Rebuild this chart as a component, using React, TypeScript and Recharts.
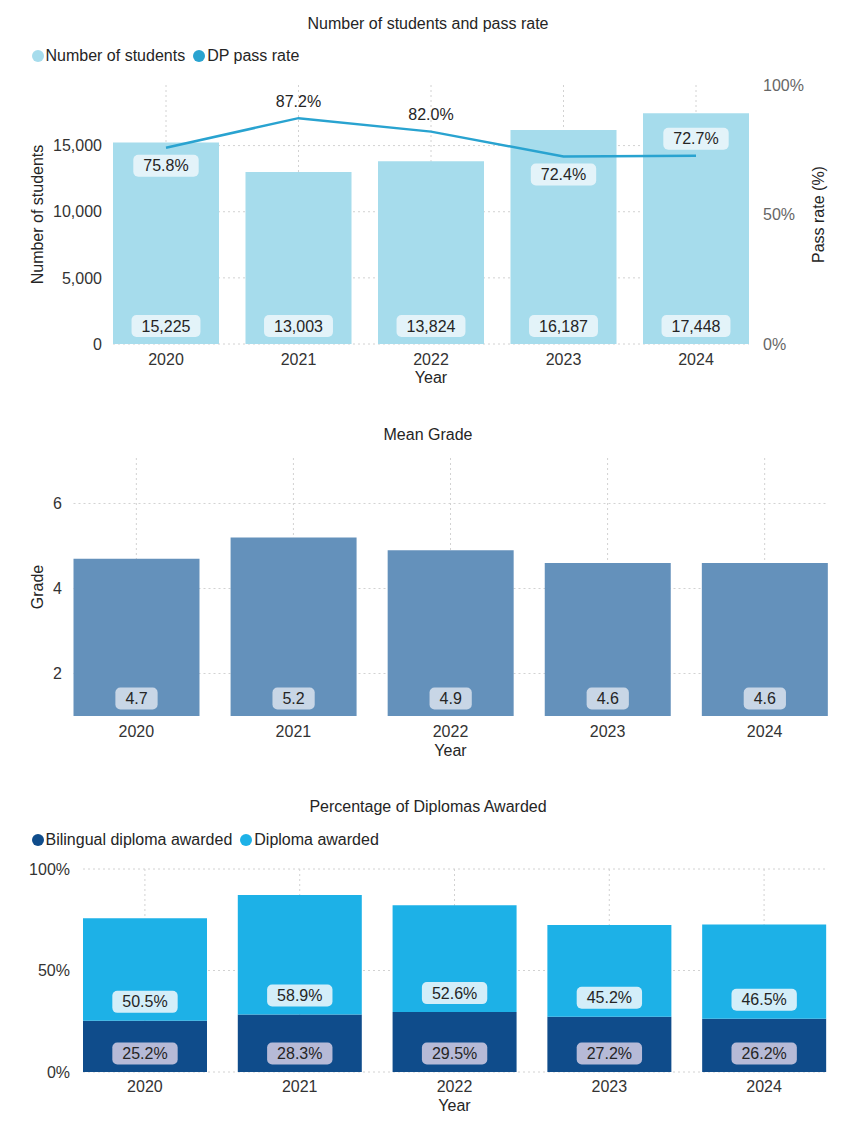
import React from 'react';
import { ComposedChart, BarChart, Bar, Line, XAxis, YAxis, CartesianGrid, LabelList } from 'recharts';

const years = ['2020', '2021', '2022', '2023', '2024'];
const studentCounts = [15225, 13003, 13824, 16187, 17448];
const dpPassRate = [75.8, 87.2, 82.0, 72.4, 72.7];
const meanGrades = [4.7, 5.2, 4.9, 4.6, 4.6];
const bilingualAwarded = [25.2, 28.3, 29.5, 27.2, 26.2];
const diplomaAwarded = [50.5, 58.9, 52.6, 45.2, 46.5];
const studentTicks = [0, 5000, 10000, 15000];
const passRateTicks = [0, 50, 100];
const gradeTicks = [2, 4, 6];
const diplomaTicks = [0, 50, 100];

const studentsData = years.map((year, i) => ({ year, students: studentCounts[i], passRate: dpPassRate[i] }));
const gradeData = years.map((year, i) => ({ year, grade: meanGrades[i] }));
const diplomaData = years.map((year, i) => ({ year, bilingual: bilingualAwarded[i], diploma: diplomaAwarded[i] }));

const FONT = '"Liberation Sans", Arial, Helvetica, sans-serif';
const FS = 16;
const W = 868;
const XH = 30;
const GAP = 0.1;
const STUDENT_MAX = 19580;
const GRADE_DOMAIN: [number, number] = [1, 7.07];

const C_STUDENTS = '#a6dcec';
const C_PASS = '#29a3d0';
const C_GRADE = '#6491bb';
const C_BILINGUAL = '#0f4c8b';
const C_DIPLOMA = '#1db1e7';
const TEXT = '#252525';
const GRID = '#d2d2d2';

type Layout = { top: number; bottom: number; left: number; right: number; h: number; yw: number; ryw: number };
const L1: Layout = { top: 85, bottom: 344, left: 113, right: 749, h: 400, yw: 60, ryw: 60 };
const L2: Layout = { top: 58, bottom: 316, left: 73.5, right: 827.5, h: 380, yw: 50, ryw: 0 };
const L3: Layout = { top: 89, bottom: 292, left: 83, right: 826, h: 343, yw: 60, ryw: 0 };

const marginOf = (l: Layout) => ({ top: l.top, bottom: l.h - l.bottom - XH, left: l.left - l.yw, right: W - l.right - l.ryw });
const edgePad = (l: Layout) => {
  const step = (l.right - l.left) / (years.length - 2 * GAP);
  const p = -step * GAP;
  return { left: p, right: p };
};

const approxWidth = (s: string) =>
  [...s].reduce((w, c) => w + (c === '%' ? 0.889 : c === '.' || c === ',' ? 0.278 : 0.556), 0) * FS;

const Tag = ({ cx, cy, text, fill }: { cx: number; cy: number; text: string; fill?: string }) => {
  const w = approxWidth(text) + 20;
  const h = 22;
  return (
    <g>
      {fill ? <rect x={cx - w / 2} y={cy - h / 2} width={w} height={h} rx={5} ry={5} fill={fill} /> : null}
      <text x={cx} y={cy} dy="0.35em" textAnchor="middle" fontFamily={FONT} fontSize={FS} fill={TEXT}>
        {text}
      </text>
    </g>
  );
};

const baseLabel = (fill: string, lift: number, fmt: (v: number) => string) => (props: any) => {
  const vb = props.viewBox || props;
  const x = Number(vb.x ?? props.x);
  const y = Number(vb.y ?? props.y);
  const w = Number(vb.width ?? props.width);
  const h = Number(vb.height ?? props.height);
  const base = Math.max(y, y + h);
  return <Tag cx={x + w / 2} cy={base - lift} text={fmt(Number(props.value))} fill={fill} />;
};

const passLabel = (props: any) => {
  const vb = props.viewBox || props;
  const x = Number(vb.x ?? props.x);
  const y = Number(vb.y ?? props.y);
  const i = typeof props.index === 'number' ? props.index : dpPassRate.indexOf(Number(props.value));
  const v = dpPassRate[i];
  const next = dpPassRate[i + 1];
  const prev = dpPassRate[i - 1];
  const below = next !== undefined ? next > v : prev !== undefined && prev > v;
  const cy = below ? y + 18 : y - 17;
  const plotH = L1.bottom - L1.top;
  const barTop = L1.bottom - (studentCounts[i] / STUDENT_MAX) * plotH;
  const inBar = cy - 11 > barTop;
  return <Tag cx={x} cy={cy} text={`${v.toFixed(1)}%`} fill={inBar ? '#e3f3f9' : undefined} />;
};

const vTitle = (text: string, x: number, color: string) => (props: any) => {
  const vb = props.viewBox || {};
  const cy = vb.y + vb.height / 2;
  return (
    <text x={x} y={cy} dy="0.35em" transform={`rotate(-90 ${x} ${cy})`} textAnchor="middle" fontFamily={FONT} fontSize={FS} fill={color}>
      {text}
    </text>
  );
};

const hTitle = (text: string, down: number) => (props: any) => {
  const vb = props.viewBox || {};
  return (
    <text x={vb.x + vb.width / 2} y={vb.y + down} dy="0.35em" textAnchor="middle" fontFamily={FONT} fontSize={FS} fill={TEXT}>
      {text}
    </text>
  );
};

const tickStyle = (fill: string) => ({ fontSize: FS, fill, fontFamily: FONT });

const Title = ({ top, text }: { top: number; text: string }) => (
  <div style={{ position: 'absolute', top, left: 0, width: 856, height: 20, lineHeight: '20px', textAlign: 'center', fontFamily: FONT, fontSize: FS, color: TEXT }}>
    {text}
  </div>
);

const LegendRow = ({ top, items }: { top: number; items: { label: string; color: string }[] }) => (
  <div style={{ position: 'absolute', top, left: 31.5, height: 20, display: 'flex', alignItems: 'center', fontFamily: FONT, fontSize: FS, color: TEXT, whiteSpace: 'nowrap' }}>
    {items.map((it, k) => (
      <span key={k} style={{ display: 'flex', alignItems: 'center', marginRight: 8, height: 20, lineHeight: '20px' }}>
        <span style={{ display: 'inline-block', width: 12, height: 12, borderRadius: 6, background: it.color, marginRight: 2 }} />
        {it.label}
      </span>
    ))}
  </div>
);

export default function App() {
  return (
    <div style={{ position: 'absolute', left: 0, top: 0, width: W, height: 1123, background: '#fff' }}>
      {/* Chart 1 */}
      <div style={{ position: 'absolute', left: 0, top: 0, width: W, height: L1.h }}>
        <ComposedChart width={W} height={L1.h} data={studentsData} margin={marginOf(L1)} barCategoryGap="10%">
          <CartesianGrid yAxisId="left" stroke={GRID} strokeDasharray="2 3" syncWithTicks />
          <XAxis
            dataKey="year"
            interval={0}
            padding={edgePad(L1)}
            axisLine={false}
            tickLine={false}
            tickSize={0}
            tickMargin={9.4}
            height={XH}
            tick={tickStyle('#333')}
            label={hTitle('Year', 33)}
          />
          <YAxis
            yAxisId="left"
            width={L1.yw}
            domain={[0, STUDENT_MAX]}
            ticks={studentTicks}
            interval={0}
            axisLine={false}
            tickLine={false}
            tickSize={0}
            tickMargin={11}
            tick={tickStyle('#333')}
            tickFormatter={(v: number) => v.toLocaleString('en-US')}
            label={vTitle('Number of students', 37, TEXT)}
          />
          <YAxis
            yAxisId="right"
            orientation="right"
            width={L1.ryw}
            domain={[0, 100]}
            ticks={passRateTicks}
            interval={0}
            axisLine={false}
            tickLine={false}
            tickSize={0}
            tickMargin={14}
            tick={tickStyle('#666')}
            tickFormatter={(v: number) => `${v}%`}
            label={vTitle('Pass rate (%)', 818, TEXT)}
          />
          <Bar yAxisId="left" dataKey="students" fill={C_STUDENTS} isAnimationActive={false}>
            <LabelList dataKey="students" content={baseLabel('#e3f3f9', 18, (v) => v.toLocaleString('en-US'))} />
          </Bar>
          <Line yAxisId="right" dataKey="passRate" type="linear" stroke={C_PASS} strokeWidth={2.5} dot={false} activeDot={false} isAnimationActive={false}>
            <LabelList dataKey="passRate" content={passLabel} />
          </Line>
        </ComposedChart>
      </div>
      <Title top={14} text="Number of students and pass rate" />
      <LegendRow
        top={46}
        items={[
          { label: 'Number of students', color: C_STUDENTS },
          { label: 'DP pass rate', color: C_PASS },
        ]}
      />

      {/* Chart 2 */}
      <div style={{ position: 'absolute', left: 0, top: 400, width: W, height: L2.h }}>
        <BarChart width={W} height={L2.h} data={gradeData} margin={marginOf(L2)} barCategoryGap="10%">
          <CartesianGrid stroke={GRID} strokeDasharray="2 3" syncWithTicks />
          <XAxis
            dataKey="year"
            interval={0}
            padding={edgePad(L2)}
            axisLine={false}
            tickLine={false}
            tickSize={0}
            tickMargin={9.4}
            height={XH}
            tick={tickStyle('#333')}
            label={hTitle('Year', 34)}
          />
          <YAxis
            width={L2.yw}
            domain={GRADE_DOMAIN}
            ticks={gradeTicks}
            interval={0}
            axisLine={false}
            tickLine={false}
            tickSize={0}
            tickMargin={11.5}
            tick={tickStyle('#333')}
            label={vTitle('Grade', 37, TEXT)}
          />
          <Bar dataKey="grade" fill={C_GRADE} isAnimationActive={false}>
            <LabelList dataKey="grade" content={baseLabel('#c8d6e6', 17.5, (v) => v.toFixed(1))} />
          </Bar>
        </BarChart>
      </div>
      <Title top={425} text="Mean Grade" />

      {/* Chart 3 */}
      <div style={{ position: 'absolute', left: 0, top: 780, width: W, height: L3.h }}>
        <BarChart width={W} height={L3.h} data={diplomaData} margin={marginOf(L3)} barCategoryGap="10%">
          <CartesianGrid stroke={GRID} strokeDasharray="2 3" syncWithTicks />
          <XAxis
            dataKey="year"
            interval={0}
            padding={edgePad(L3)}
            axisLine={false}
            tickLine={false}
            tickSize={0}
            tickMargin={8.4}
            height={XH}
            tick={tickStyle('#333')}
            label={hTitle('Year', 33)}
          />
          <YAxis
            width={L3.yw}
            domain={[0, 100]}
            ticks={diplomaTicks}
            interval={0}
            axisLine={false}
            tickLine={false}
            tickSize={0}
            tickMargin={13}
            tick={tickStyle('#333')}
            tickFormatter={(v: number) => `${v}%`}
          />
          <Bar dataKey="bilingual" stackId="d" fill={C_BILINGUAL} isAnimationActive={false}>
            <LabelList dataKey="bilingual" content={baseLabel('#b6bad7', 18.5, (v) => `${v.toFixed(1)}%`)} />
          </Bar>
          <Bar dataKey="diploma" stackId="d" fill={C_DIPLOMA} isAnimationActive={false}>
            <LabelList dataKey="diploma" content={baseLabel('#d3eef9', 19, (v) => `${v.toFixed(1)}%`)} />
          </Bar>
        </BarChart>
      </div>
      <Title top={797} text="Percentage of Diplomas Awarded" />
      <LegendRow
        top={830}
        items={[
          { label: 'Bilingual diploma awarded', color: C_BILINGUAL },
          { label: 'Diploma awarded', color: C_DIPLOMA },
        ]}
      />
    </div>
  );
}
